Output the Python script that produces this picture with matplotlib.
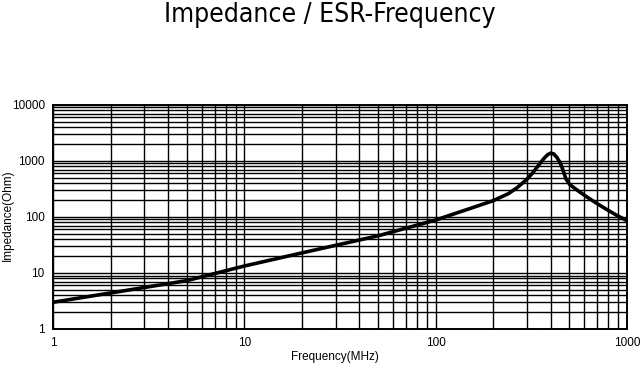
import matplotlib
matplotlib.use('agg')
import matplotlib.pyplot as plt
from matplotlib.ticker import FixedLocator, FixedFormatter, NullFormatter, LogLocator

# Impedance curve (frequency in MHz, impedance in Ohm)
freq = [1, 2, 5, 10, 20, 50, 100, 150, 200, 240, 266, 300, 323, 345, 366, 385, 400, 415, 431, 448,
        463, 480, 504, 550, 617, 700, 787, 880, 1000]
imped = [3.0, 4.4, 7.3, 13.3, 22.8, 46, 88, 140, 195, 260, 330, 470, 620, 830, 1080, 1290, 1380, 1330,
         1150, 920, 690, 480, 375, 300, 228, 172, 135, 108, 86]

xticks = [1, 10, 100, 1000]
yticks = [1, 10, 100, 1000, 10000]

plt.rcParams['font.family'] = ['Liberation Sans', 'DejaVu Sans']

fig = plt.figure(figsize=(6.41, 3.68), dpi=100)
ax = fig.add_axes([0.0827, 0.106, 0.8953, 0.609])

ax.plot(freq, imped, color='black', linewidth=2.6, solid_capstyle='round')

ax.set_xscale('log')
ax.set_yscale('log')
ax.set_xlim(1, 1000)
ax.set_ylim(1, 10000)

ax.xaxis.set_major_locator(FixedLocator(xticks))
ax.xaxis.set_major_formatter(FixedFormatter([str(v) for v in xticks]))
ax.yaxis.set_major_locator(FixedLocator(yticks))
ax.yaxis.set_major_formatter(FixedFormatter([str(v) for v in yticks]))
ax.xaxis.set_minor_locator(LogLocator(base=10, subs=range(2, 10)))
ax.yaxis.set_minor_locator(LogLocator(base=10, subs=range(2, 10)))
ax.xaxis.set_minor_formatter(NullFormatter())
ax.yaxis.set_minor_formatter(NullFormatter())

ax.grid(True, which='both', color='black', linewidth=1.0)
ax.tick_params(which='both', length=0, labelsize=8.5)
ax.tick_params(axis='y', pad=6)
ax.tick_params(axis='x', pad=6)
for s in ax.spines.values():
    s.set_linewidth(1.4)

fig.text(0.523, 0.030, 'Frequency(MHz)', ha='center', va='center', fontsize=8.5)
fig.text(0.013, 0.416, 'Impedance(Ohm)', ha='center', va='center', fontsize=8.5, rotation=90)

fig.text(0.515, 0.958, 'Impedance / ESR-Frequency', ha='center', va='center', fontsize=19,
         family='DejaVu Sans', fontstretch='condensed')

plt.savefig('out.png', dpi=100)
